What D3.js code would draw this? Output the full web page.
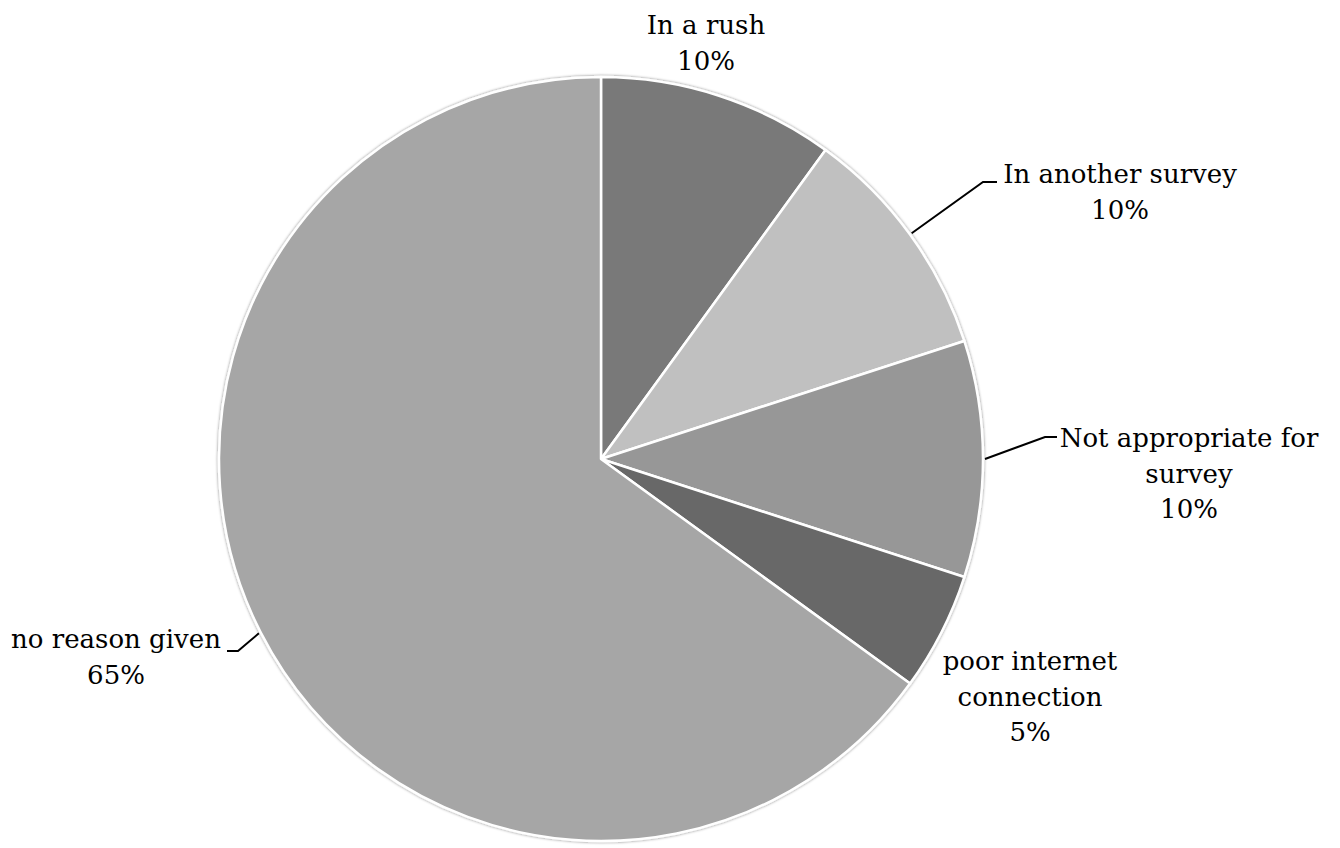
<!DOCTYPE html>
<html>
<head>
<meta charset="utf-8">
<script src="https://cdn.jsdelivr.net/npm/d3@7"></script>
<style>
  body { margin: 0; background: #fff; }
  text { font-family: "DejaVu Serif", "Liberation Serif", serif; font-size: 26px; fill: #000; }
</style>
</head>
<body>
<svg width="1340" height="848"></svg>
<script>
var categories = ["In a rush", "In another survey", "Not appropriate for survey", "poor internet connection", "no reason given"];
var values = [10, 10, 10, 5, 65];
var colors = ["#797979", "#c0c0c0", "#979797", "#686868", "#a6a6a6"];
// label lines as drawn in the chart
var labelLines = [["In a rush", "10%"], ["In another survey", "10%"], ["Not appropriate for", "survey", "10%"], ["poor internet", "connection", "5%"], ["no reason given", "65%"]];
var labelPos = [[706, 34], [1120, 183], [1189, 447], [1030, 670], [116, 648]];
var leaderBend = [null, [983, 182, 997], [1045, 437, 1057], null, [238, 651, 227]];

var svg = d3.select("svg"),
    cx = 601, cy = 459, r = 382;

var data = categories.map(function(c, i) { return {name: c, value: values[i], i: i}; });

var pie = d3.pie().sort(null).value(function(d) { return d.value; });
var arc = d3.arc().innerRadius(0).outerRadius(r);
var arcs = pie(data);

var defs = svg.append("defs");
var f = defs.append("filter").attr("id", "sh").attr("x", "-10%").attr("y", "-10%").attr("width", "120%").attr("height", "120%");
f.append("feGaussianBlur").attr("in", "SourceAlpha").attr("stdDeviation", 1.5);
f.append("feOffset").attr("dx", 0).attr("dy", 0).attr("result", "b");
f.append("feComponentTransfer").append("feFuncA").attr("type", "linear").attr("slope", 0.5);
var m = f.append("feMerge");
m.append("feMergeNode");
m.append("feMergeNode").attr("in", "SourceGraphic");

var g = svg.append("g").attr("transform", "translate(" + cx + "," + cy + ")");
g.append("g").attr("filter", "url(#sh)")
  .selectAll("path")
  .data(arcs)
  .enter().append("path")
  .attr("d", arc)
  .attr("fill", function(d) { return colors[d.data.i]; })
  .attr("stroke", "#fff")
  .attr("stroke-width", 2.5)
  .attr("stroke-linejoin", "round");

// leader lines
var edge = d3.arc().innerRadius(r + 2).outerRadius(r + 2);
arcs.forEach(function(d) {
  var b = leaderBend[d.data.i];
  if (!b) return;
  var p = edge.centroid(d);
  var pts = [[cx + p[0], cy + p[1]], [b[0], b[1]], [b[2], b[1]]];
  svg.append("path")
    .attr("d", d3.line()(pts))
    .attr("fill", "none")
    .attr("stroke", "#000")
    .attr("stroke-width", 2);
});

var labels = svg.append("g").selectAll("text")
  .data(data)
  .enter().append("text")
  .attr("text-anchor", "middle")
  .attr("x", function(d) { return labelPos[d.i][0]; })
  .attr("y", function(d) { return labelPos[d.i][1]; });
labels.each(function(d) {
  var t = d3.select(this);
  labelLines[d.i].forEach(function(s, k) {
    t.append("tspan")
      .attr("x", labelPos[d.i][0])
      .attr("dy", k === 0 ? 0 : 35.5)
      .text(s);
  });
});
</script>
</body>
</html>
